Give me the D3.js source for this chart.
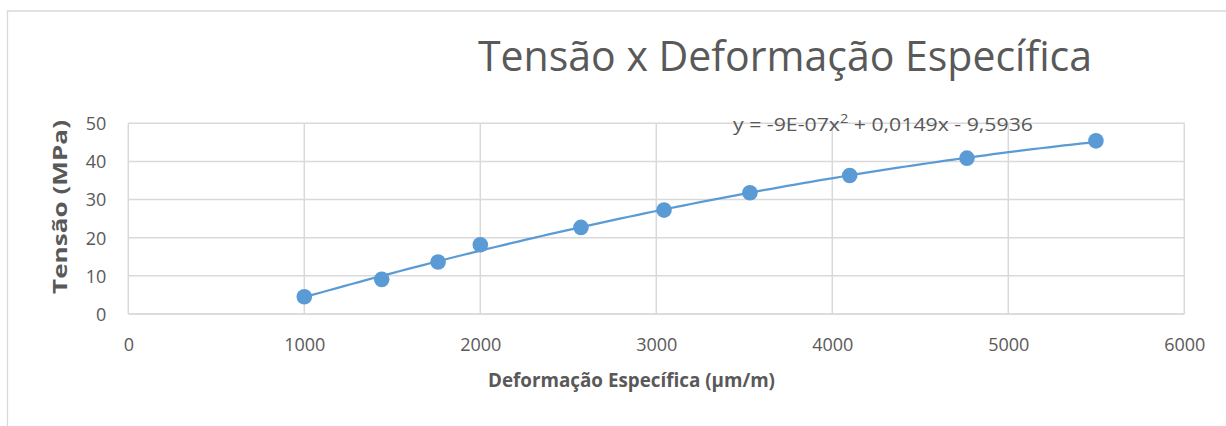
<!DOCTYPE html>
<html>
<head>
<meta charset="utf-8">
<script src="https://cdn.jsdelivr.net/npm/d3@7"></script>
<style>
  html, body { margin: 0; padding: 0; background: #fff; }
  svg { display: block; }
  text { font-family: "Open Sans", "Noto Sans", sans-serif; fill: #595959; }
</style>
</head>
<body>
<svg id="chart" width="1226" height="426"></svg>
<script>
// ---- data ----
const strain = [1000, 1440, 1760, 2000, 2572, 3044, 3532, 4099, 4765, 5498];
const stress = [4.54, 9.08, 13.62, 18.16, 22.7, 27.24, 31.78, 36.32, 40.86, 45.4];
const xTicks = [0, 1000, 2000, 3000, 4000, 5000, 6000];
const yTicks = [0, 10, 20, 30, 40, 50];
const trendCoef = [-9e-7, 0.0149, -9.5936]; // a x^2 + b x + c (Excel polynomial trendline)
const titleText = "Tensão x Deformação Específica";
const xLabel = "Deformação Específica (µm/m)";
const yLabel = "Tensão (MPa)";

// ---- layout ----
const svg = d3.select("#chart");
const plot = { left: 128.3, right: 1184.3, top: 123.3, bottom: 314 };
const x = d3.scaleLinear().domain([0, 6000]).range([plot.left, plot.right]);
const y = d3.scaleLinear().domain([0, 50]).range([plot.bottom, plot.top]);
const blue = "#5b9bd5";
const grid = "#d9d9d9";

// chart frame
svg.append("path")
  .attr("d", "M7.5,426 L7.5,11 L1226,11")
  .attr("fill", "none").attr("stroke", "#d9d9d9").attr("stroke-width", 1.3);

// gridlines
const g = svg.append("g");
g.selectAll(".hg").data(yTicks).join("line")
  .attr("x1", plot.left).attr("x2", plot.right)
  .attr("y1", d => y(d)).attr("y2", d => y(d))
  .attr("stroke", d => d === 0 ? "#d0d0d0" : grid).attr("stroke-width", 1.5);
g.selectAll(".vg").data(xTicks).join("line")
  .attr("y1", plot.top).attr("y2", plot.bottom)
  .attr("x1", d => x(d)).attr("x2", d => x(d))
  .attr("stroke", grid).attr("stroke-width", 1.5);

// axes labels via d3 axes (no lines)
const xAxis = svg.append("g").attr("transform", `translate(0,${plot.bottom})`)
  .call(d3.axisBottom(x).tickValues(xTicks).tickSize(0).tickPadding(0).tickFormat(d3.format("d")));
xAxis.select(".domain").remove();
xAxis.selectAll("text").attr("dy", null).attr("y", 37)
  .style("font-size", "18px").style("fill", "#595959").style("font-family", '"Open Sans", sans-serif');

const yAxis = svg.append("g").attr("transform", `translate(${plot.left},0)`)
  .call(d3.axisLeft(y).tickValues(yTicks).tickSize(0).tickPadding(0).tickFormat(d3.format("d")));
yAxis.select(".domain").remove();
yAxis.selectAll("text").attr("x", -22).attr("dy", "0.35em")
  .style("font-size", "18px").style("fill", "#595959").style("font-family", '"Open Sans", sans-serif');

// trendline (polynomial, order 2) over data range
const [a, b, c] = trendCoef;
const xMin = d3.min(strain), xMax = d3.max(strain);
const trendPts = d3.range(0, 101).map(i => {
  const xv = xMin + (xMax - xMin) * i / 100;
  return [xv, a * xv * xv + b * xv + c];
});
svg.append("path")
  .datum(trendPts)
  .attr("d", d3.line().x(d => x(d[0])).y(d => y(d[1])))
  .attr("fill", "none").attr("stroke", blue).attr("stroke-width", 2.25);

// markers
svg.selectAll(".pt").data(strain.map((s, i) => [s, stress[i]])).join("circle")
  .attr("cx", d => x(d[0])).attr("cy", d => y(d[1])).attr("r", 7.8)
  .attr("fill", blue);

// equation
const eq = svg.append("text").attr("x", 733).attr("y", 131)
  .attr("textLength", 300).attr("lengthAdjust", "spacingAndGlyphs")
  .style("font-size", "19px");
eq.append("tspan").text("y = -9E-07x");
eq.append("tspan").text("2").attr("dy", -8).style("font-size", "13px");
eq.append("tspan").text(" + 0,0149x - 9,5936").attr("dy", 8);

// title
svg.append("text").attr("x", 478).attr("y", 71)
  .attr("textLength", 614).attr("lengthAdjust", "spacingAndGlyphs")
  .style("font-size", "42px").text(titleText);

// axis titles
svg.append("text").attr("x", 488).attr("y", 387)
  .attr("textLength", 287).attr("lengthAdjust", "spacingAndGlyphs")
  .style("font-size", "19.5px").style("font-weight", "bold").text(xLabel);

svg.append("text")
  .attr("transform", "translate(67,294) rotate(-90)")
  .attr("textLength", 174).attr("lengthAdjust", "spacingAndGlyphs")
  .style("font-size", "19.5px").style("font-weight", "bold").text(yLabel);
</script>
</body>
</html>
